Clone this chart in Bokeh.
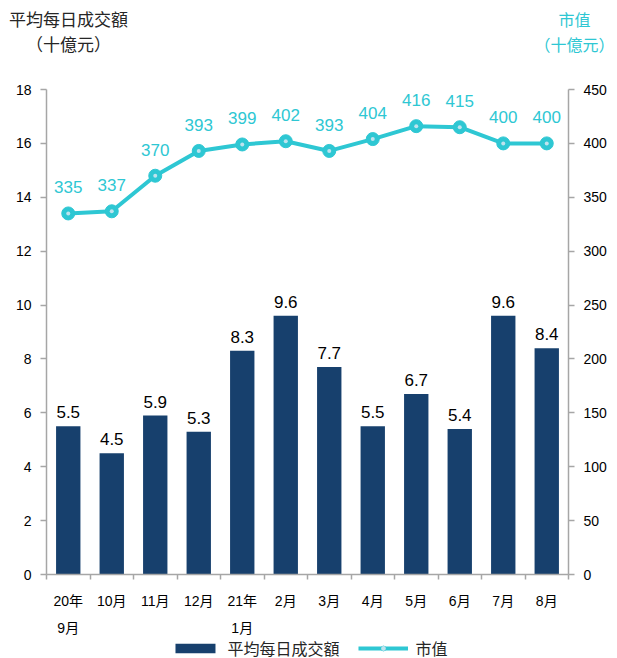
from bokeh.plotting import figure
from bokeh.layouts import column
from bokeh.models import (Range1d, LinearAxis, FixedTicker, Legend, LegendItem, ColumnDataSource)
from bokeh.core.properties import value
from bokeh.embed import file_html
from bokeh.resources import INLINE

# ---- data ----
month_line1 = ["20年", "10月", "11月", "12月", "21年", "2月", "3月", "4月", "5月", "6月", "7月", "8月"]
month_line2 = ["9月", "", "", "", "1月", "", "", "", "", "", "", ""]
avg_daily_turnover = [5.5, 4.5, 5.9, 5.3, 8.3, 9.6, 7.7, 5.5, 6.7, 5.4, 9.6, 8.4]
market_cap = [335, 337, 370, 393, 399, 402, 393, 404, 416, 415, 400, 400]
left_ticks = [0, 2, 4, 6, 8, 10, 12, 14, 16, 18]
right_ticks = [0, 50, 100, 150, 200, 250, 300, 350, 400, 450]
left_title = ["平均每日成交額", "（十億元）"]
right_title = ["市值", "（十億元）"]
legend_labels = ["平均每日成交額", "市值"]

NAVY = "#17406D"
TEAL = "#2EC7D3"
GRAY = "#A6A6A6"
DARK = "#262626"
MARK_IN = "#BFE3EE"
FONT = "'Liberation Sans', 'Noto Sans CJK TC', sans-serif"

W = 617
TOP_H = 80
MAIN_H = 558
BOT_H = 20

n = len(month_line1)
centers = [i + 0.5 for i in range(n)]

src = ColumnDataSource(dict(
    x=centers,
    vol=avg_daily_turnover,
    vol_txt=[f"{v:.1f}" for v in avg_daily_turnover],
    cap=market_cap,
    cap_txt=[str(v) for v in market_cap],
))


def strip(h):
    f = figure(width=W, height=h, x_range=Range1d(0, W), y_range=Range1d(0, h),
               output_backend="svg", toolbar_location=None,
               x_axis_location=None, y_axis_location=None, min_border=0)
    f.outline_line_color = None
    f.xgrid.visible = False
    f.ygrid.visible = False
    f.frame_align = False
    return f


# ---- header strip with the two axis titles ----
top = strip(TOP_H)
top.text(x=[68, 68], y=[60, 35], text=left_title, text_align="center", text_baseline="middle",
         text_font=value(FONT), text_font_size="17px", text_color=DARK)
top.text(x=[574, 574], y=[60, 35], text=right_title, text_align="center", text_baseline="middle",
         text_font=value(FONT), text_font_size="16px", text_color=TEAL)

# ---- main chart ----
p = figure(width=W, height=MAIN_H, x_range=Range1d(0, n), y_range=Range1d(0, 18),
           output_backend="svg", toolbar_location=None,
           x_axis_location=None, y_axis_location=None,
           min_border_left=46, min_border_right=W - 568, min_border_top=9, min_border_bottom=63)
p.outline_line_color = None
p.xgrid.visible = False
p.ygrid.visible = False
p.frame_align = False
p.extra_y_ranges = {"cap": Range1d(0, 450)}

ly = LinearAxis(ticker=FixedTicker(ticks=left_ticks))
ry = LinearAxis(y_range_name="cap", ticker=FixedTicker(ticks=right_ticks))
for ax in (ly, ry):
    ax.axis_line_color = GRAY
    ax.axis_line_width = 1.5
    ax.major_tick_line_color = GRAY
    ax.major_tick_line_width = 1.5
    ax.major_tick_in = 0
    ax.major_tick_out = 6
    ax.minor_tick_line_color = None
    ax.major_label_text_font = FONT
    ax.major_label_text_font_size = "14px"
    ax.major_label_text_color = "#000000"
    ax.major_label_standoff = 9
p.add_layout(ly, "left")
p.add_layout(ry, "right")

# x axis: tick marks at category boundaries
bticks = list(range(n + 1))
tx = LinearAxis(ticker=FixedTicker(ticks=bticks))
tx.axis_line_color = GRAY
tx.axis_line_width = 1.5
tx.major_tick_line_color = GRAY
tx.major_tick_line_width = 1.5
tx.major_tick_in = 0
tx.major_tick_out = 5
tx.minor_tick_line_color = None
tx.major_label_text_font_size = "0px"
tx.major_label_standoff = 0
tx.major_label_overrides = {t: "" for t in bticks}
p.add_layout(tx, "below")


def label_axis(labels, standoff):
    ax = LinearAxis(ticker=FixedTicker(ticks=centers))
    ax.axis_line_color = None
    ax.major_tick_line_color = None
    ax.minor_tick_line_color = None
    ax.major_tick_out = 0
    ax.major_tick_in = 0
    ax.major_label_text_font = FONT
    ax.major_label_text_font_size = "14px"
    ax.major_label_text_color = "#000000"
    ax.major_label_standoff = standoff
    ax.major_label_overrides = {c: t for c, t in zip(centers, labels)}
    return ax


p.add_layout(label_axis(month_line1, 13), "below")
p.add_layout(label_axis(month_line2, 8), "below")

# bars
p.vbar(x="x", top="vol", width=0.56, source=src, fill_color=NAVY, line_color=None)
p.text(x="x", y="vol", text="vol_txt", source=src, text_align="center", text_baseline="middle",
       y_offset=-14, text_font=value(FONT), text_font_size="17px", text_color="#000000")

# line
p.line(x="x", y="cap", source=src, y_range_name="cap", line_color=TEAL, line_width=4)
p.scatter(x="x", y="cap", source=src, y_range_name="cap", size=13, fill_color=TEAL, line_color=TEAL)
p.scatter(x="x", y="cap", source=src, y_range_name="cap", size=4, fill_color=MARK_IN, line_color=None)
p.text(x="x", y="cap", text="cap_txt", source=src, y_range_name="cap", text_align="center",
       text_baseline="middle", y_offset=-26, text_font=value(FONT), text_font_size="17px",
       text_color=TEAL)

# ---- legend strip (proxy glyphs placed off-frame, only their legend swatches show) ----
bot = strip(BOT_H)
proxy = ColumnDataSource(dict(x=[-1000], y=[-1000], top=[-1000]))
lb = bot.vbar(x="x", top="top", width=1, source=proxy, fill_color=NAVY, line_color=None)
ll = bot.line(x="x", y="y", source=proxy, line_color=TEAL, line_width=4)
lm = bot.scatter(x="x", y="y", source=proxy, size=13, fill_color=TEAL, line_color=TEAL)
lm2 = bot.scatter(x="x", y="y", source=proxy, size=4, fill_color=MARK_IN, line_color=None)
legend = Legend(items=[LegendItem(label=legend_labels[0], renderers=[lb]),
                       LegendItem(label=legend_labels[1], renderers=[ll, lm, lm2])],
                orientation="horizontal", location="center",
                glyph_width=50, glyph_height=12, label_text_font=FONT,
                label_text_font_size="16px", label_text_color=DARK,
                spacing=18, label_standoff=8, padding=0, margin=0,
                background_fill_alpha=0, border_line_color=None)
bot.add_layout(legend, "center")

layout = column(top, p, bot, spacing=0)
open("out.html", "w").write(file_html(layout, INLINE))
